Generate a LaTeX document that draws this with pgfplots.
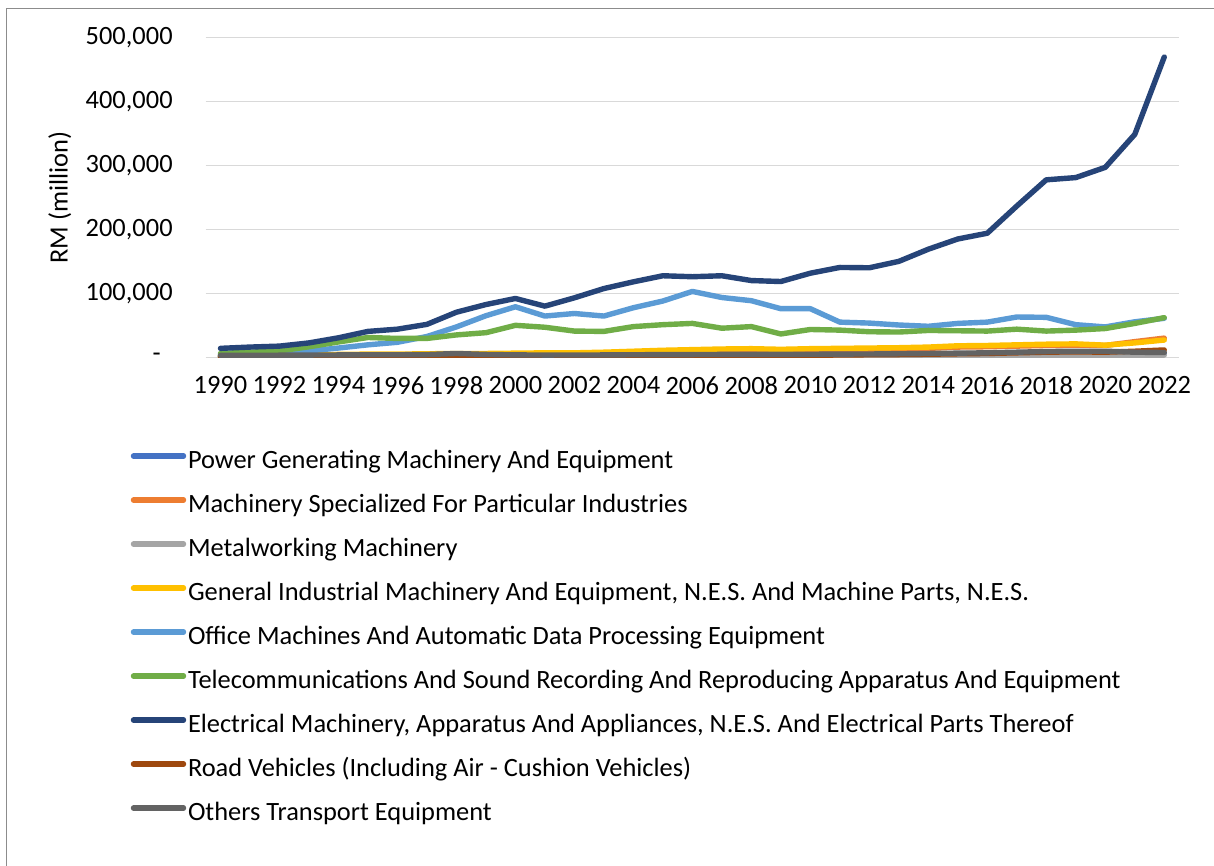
\documentclass[border=0pt]{standalone}
\usepackage{pgfplots}
\usepackage{pgfplotstable}
\pgfplotsset{compat=1.18}
\usepackage{fontspec}
\setmainfont{Carlito}

\definecolor{powerc}{HTML}{4472C4}
\definecolor{specc}{HTML}{ED7D31}
\definecolor{metalc}{HTML}{A5A5A5}
\definecolor{generalc}{HTML}{FFC000}
\definecolor{officec}{HTML}{5B9BD5}
\definecolor{telecomc}{HTML}{70AD47}
\definecolor{electricalc}{HTML}{264478}
\definecolor{roadc}{HTML}{9E480E}
\definecolor{othersc}{HTML}{636363}
\definecolor{gridc}{HTML}{D9D9D9}
\definecolor{framec}{HTML}{8C8C8C}

% Exports by machinery and transport section, RM million
\pgfplotstableread{
year power spec metal general office telecom electrical road others
1990 1500 1500 500 2500 4000 6000 14000 400 3000
1991 1700 2000 600 3000 5500 8000 16000 500 3200
1992 1900 2000 700 3500 7000 10000 17500 600 3300
1993 2100 2500 900 4000 10000 16500 22500 800 3500
1994 2400 3000 1100 4500 14500 24000 30500 1000 3700
1995 2700 3500 1300 5000 19500 31000 40500 1200 4000
1996 2900 3500 1400 5000 23500 29500 44000 1300 4000
1997 3000 4000 1500 5500 32500 29500 51500 1500 4300
1998 3500 4500 1800 6000 47500 35000 70500 2500 6000
1999 3000 4500 1300 6000 65000 38500 82500 1200 4500
2000 3000 5000 1500 6500 79000 50000 92000 1300 3800
2001 2800 5000 1500 7000 64500 47000 80000 1300 3500
2002 2900 5500 1400 7000 68500 41000 93000 1500 3600
2003 3000 6500 1500 8000 64500 40500 107500 1700 3700
2004 3200 7500 1700 9500 77500 48000 118000 2000 4000
2005 3400 9000 1900 11000 88000 51000 127500 2300 4200
2006 3600 10500 2000 12000 103000 53000 126000 2500 4300
2007 3800 11000 2200 13000 93500 45500 127500 2800 4500
2008 4000 11500 2300 13500 88500 48000 120000 3000 4700
2009 3700 10500 1800 12500 76000 36500 118500 2800 4500
2010 4000 11500 2000 13500 76000 43500 131500 3300 4800
2011 4200 12000 2100 14000 55000 42500 140500 3600 5000
2012 4300 12500 2000 14500 53500 40000 140000 4000 5200
2013 4500 13000 2000 15000 50500 39500 150000 4300 5500
2014 4900 14000 2100 16000 48500 42000 169000 4800 6000
2015 5300 16000 2300 18000 53000 41500 185000 5500 6500
2016 5600 16500 2400 18500 55000 41000 194000 6000 7000
2017 6300 17500 2800 19500 63000 44000 236500 7000 8000
2018 7000 18500 3000 20500 62500 41000 277500 8000 9000
2019 7300 19000 3000 21000 51000 42500 281000 8500 9500
2020 7000 18500 2800 19000 47500 45000 297000 8000 9500
2021 6800 24500 3300 22500 55500 53000 348500 9500 8000
2022 6500 30000 3500 27000 61000 62000 469500 11500 7500
}\exports

\begin{document}
\begin{tikzpicture}[x=0.5pt,y=-0.5pt]
\useasboundingbox (0,0) rectangle (1214,866);
\fill[white] (0,0) rectangle (1214,866);
\draw[framec, line width=0.6pt] (6.7,880) -- (6.7,8.3) -- (1230,8.3);
\begin{axis}[
  at={(102.85pt,-178.65pt)}, anchor=south west,
  scale only axis, width=486.65pt, height=159.9pt,
  xmin=1989.5, xmax=2022.5, ymin=0, ymax=500000,
  axis line style={draw=none},
  major tick length=0pt,
  ymajorgrids, grid style={gridc, line width=0.6pt},
  xtick={1990,1992,...,2022},
  xticklabels={1990,1992,1994,1996,1998,2000,2002,2004,2006,2008,2010,2012,2014,2016,2018,2020,2022},
  ytick={0,100000,200000,300000,400000,500000},
  yticklabels={{-\rule{6pt}{0pt}},{100,000},{200,000},{300,000},{400,000},{500,000}},
  scaled y ticks=false,
  tick label style={font=\fontsize{13.2}{15}\selectfont, inner sep=0pt},
  xticklabel style={anchor=north, yshift=-9.5pt},
  yticklabel style={anchor=east, xshift=-16.35pt},
  ylabel={RM (million)},
  label style={font=\fontsize{13.2}{15}\selectfont},
  ylabel style={at={(axis description cs:-0.1500,0.5)}, anchor=center},
  every axis plot/.append style={line width=2.7pt, line join=round, line cap=round},
  legend cell align=left,
  legend image code/.code={\draw[#1, line width=2.7pt, line cap=round] (0pt,3.25pt) -- (25pt,3.25pt);},
  legend style={
    at={(axis description cs:-0.07695,-0.2915)}, anchor=north west,
    draw=none, fill=none, inner sep=0pt, outer sep=0pt,
    font=\fontsize{13.2}{15}\selectfont,
    nodes={inner sep=0pt, text height=9pt, text depth=3pt},
    row sep=10pt, column sep=0.9pt},
]
\addplot[powerc] table[x=year, y=power] {\exports};
\addlegendentry{Power Generating Machinery And Equipment}
\addplot[specc] table[x=year, y=spec] {\exports};
\addlegendentry{Machinery Specialized For Particular Industries}
\addplot[metalc] table[x=year, y=metal] {\exports};
\addlegendentry{Metalworking Machinery}
\addplot[generalc] table[x=year, y=general] {\exports};
\addlegendentry{General Industrial Machinery And Equipment, N.E.S. And Machine Parts, N.E.S.}
\addplot[officec] table[x=year, y=office] {\exports};
\addlegendentry{Office Machines And Automatic Data Processing Equipment}
\addplot[telecomc] table[x=year, y=telecom] {\exports};
\addlegendentry{Telecommunications And Sound Recording And Reproducing Apparatus And Equipment}
\addplot[electricalc] table[x=year, y=electrical] {\exports};
\addlegendentry{Electrical Machinery, Apparatus And Appliances, N.E.S. And Electrical Parts Thereof}
\addplot[roadc] table[x=year, y=road] {\exports};
\addlegendentry{Road Vehicles (Including Air - Cushion Vehicles)}
\addplot[othersc] table[x=year, y=others] {\exports};
\addlegendentry{Others Transport Equipment}
\end{axis}
\end{tikzpicture}
\end{document}
